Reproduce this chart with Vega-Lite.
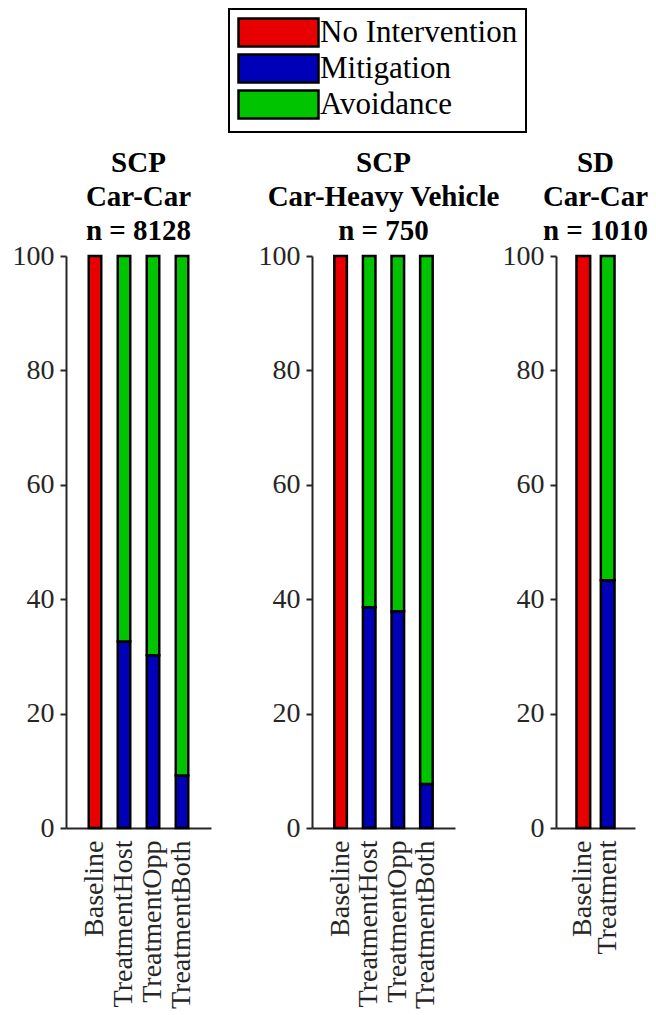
{
  "$schema": "https://vega.github.io/schema/vega-lite/v6.json",
  "padding": {"left": 12, "top": 8, "right": 0, "bottom": 0},
  "background": "white",
  "data": {"values": [
    {"panel": "P1", "cond": "Baseline", "outcome": "No Intervention", "ord": 0, "value": 100},
    {"panel": "P1", "cond": "TreatmentHost", "outcome": "Mitigation", "ord": 1, "value": 32.6},
    {"panel": "P1", "cond": "TreatmentHost", "outcome": "Avoidance", "ord": 2, "value": 67.4},
    {"panel": "P1", "cond": "TreatmentOpp", "outcome": "Mitigation", "ord": 1, "value": 30.2},
    {"panel": "P1", "cond": "TreatmentOpp", "outcome": "Avoidance", "ord": 2, "value": 69.8},
    {"panel": "P1", "cond": "TreatmentBoth", "outcome": "Mitigation", "ord": 1, "value": 9.2},
    {"panel": "P1", "cond": "TreatmentBoth", "outcome": "Avoidance", "ord": 2, "value": 90.8},
    {"panel": "P2", "cond": "Baseline", "outcome": "No Intervention", "ord": 0, "value": 100},
    {"panel": "P2", "cond": "TreatmentHost", "outcome": "Mitigation", "ord": 1, "value": 38.6},
    {"panel": "P2", "cond": "TreatmentHost", "outcome": "Avoidance", "ord": 2, "value": 61.4},
    {"panel": "P2", "cond": "TreatmentOpp", "outcome": "Mitigation", "ord": 1, "value": 37.9},
    {"panel": "P2", "cond": "TreatmentOpp", "outcome": "Avoidance", "ord": 2, "value": 62.1},
    {"panel": "P2", "cond": "TreatmentBoth", "outcome": "Mitigation", "ord": 1, "value": 7.7},
    {"panel": "P2", "cond": "TreatmentBoth", "outcome": "Avoidance", "ord": 2, "value": 92.3},
    {"panel": "P3", "cond": "Baseline", "outcome": "No Intervention", "ord": 0, "value": 100},
    {"panel": "P3", "cond": "Treatment", "outcome": "Mitigation", "ord": 1, "value": 43.3},
    {"panel": "P3", "cond": "Treatment", "outcome": "Avoidance", "ord": 2, "value": 56.7}
  ]},
  "config": {
    "view": {"stroke": null},
    "font": "Liberation Serif",
    "axis": {
      "grid": false,
      "domainColor": "#262626",
      "domainWidth": 2,
      "tickColor": "#262626",
      "tickWidth": 2,
      "labelColor": "#262626",
      "labelFont": "Liberation Serif",
      "labelFontSize": 28,
      "title": null
    },
    "title": {
      "font": "Liberation Serif",
      "fontSize": 29,
      "fontWeight": "bold",
      "color": "black",
      "lineHeight": 34,
      "anchor": "middle",
      "offset": -4
    }
  },
  "resolve": {"scale": {"color": "shared"}},
  "bounds": "flush",
  "spacing": 101,
  "hconcat": [
    {
      "width": 145,
      "height": 572,
      "title": {"text": ["SCP", "Car-Car", "n = 8128"]},
      "transform": [{"filter": "datum.panel === 'P1'"}],
      "mark": {"type": "bar", "stroke": "black", "strokeWidth": 2.5},
      "encoding": {
        "x": {"field": "cond", "type": "nominal", "sort": ["Baseline", "TreatmentHost", "TreatmentOpp", "TreatmentBoth"],
              "scale": {"paddingInner": 0.569, "paddingOuter": 0.784},
              "axis": {"labelAngle": -90, "ticks": false, "labelPadding": 12}},
        "y": {"field": "value", "type": "quantitative", "stack": "zero",
              "scale": {"domain": [0, 100], "nice": false},
              "axis": {"values": [0, 20, 40, 60, 80, 100], "ticks": true, "tickSize": 6, "labelPadding": 6}},
        "color": {"field": "outcome", "type": "nominal",
                  "scale": {"domain": ["No Intervention", "Mitigation", "Avoidance"], "range": ["#e80000", "#0000b8", "#00c400"]},
                  "legend": {
                    "orient": "none", "legendX": 163, "legendY": -247,
                    "title": null, "direction": "vertical",
                    "symbolType": "M-1,-1H4.714V1H-1Z", "symbolSize": 784,
                    "symbolStrokeColor": "black", "symbolStrokeWidth": 2.5, "symbolOpacity": 1,
                    "labelFont": "Liberation Serif", "labelFontSize": 31, "labelColor": "black",
                    "labelOffset": 52, "rowPadding": -3, "padding": 8,
                    "strokeColor": "black", "fillColor": "white",
                    "labelLimit": 400,
                    "encode": {"legend": {"update": {"strokeWidth": {"value": 2}}}}
                  }},
        "order": {"field": "ord", "type": "quantitative"}
      }
    },
    {
      "width": 143,
      "height": 572,
      "title": {"text": ["SCP", "Car-Heavy Vehicle", "n = 750"]},
      "transform": [{"filter": "datum.panel === 'P2'"}],
      "mark": {"type": "bar", "stroke": "black", "strokeWidth": 2.5},
      "encoding": {
        "x": {"field": "cond", "type": "nominal", "sort": ["Baseline", "TreatmentHost", "TreatmentOpp", "TreatmentBoth"],
              "scale": {"paddingInner": 0.561, "paddingOuter": 0.78},
              "axis": {"labelAngle": -90, "ticks": false, "labelPadding": 12}},
        "y": {"field": "value", "type": "quantitative", "stack": "zero",
              "scale": {"domain": [0, 100], "nice": false},
              "axis": {"values": [0, 20, 40, 60, 80, 100], "ticks": true, "tickSize": 6, "labelPadding": 6}},
        "color": {"field": "outcome", "type": "nominal"},
        "order": {"field": "ord", "type": "quantitative"}
      }
    },
    {
      "width": 79,
      "height": 572,
      "title": {"text": ["SD", "Car-Car", "n = 1010"]},
      "transform": [{"filter": "datum.panel === 'P3'"}],
      "mark": {"type": "bar", "stroke": "black", "strokeWidth": 2.5},
      "encoding": {
        "x": {"field": "cond", "type": "nominal", "sort": ["Baseline", "Treatment"],
              "scale": {"paddingInner": 0.4375, "paddingOuter": 0.84},
              "axis": {"labelAngle": -90, "ticks": false, "labelPadding": 12}},
        "y": {"field": "value", "type": "quantitative", "stack": "zero",
              "scale": {"domain": [0, 100], "nice": false},
              "axis": {"values": [0, 20, 40, 60, 80, 100], "ticks": true, "tickSize": 6, "labelPadding": 6}},
        "color": {"field": "outcome", "type": "nominal"},
        "order": {"field": "ord", "type": "quantitative"}
      }
    }
  ]
}
